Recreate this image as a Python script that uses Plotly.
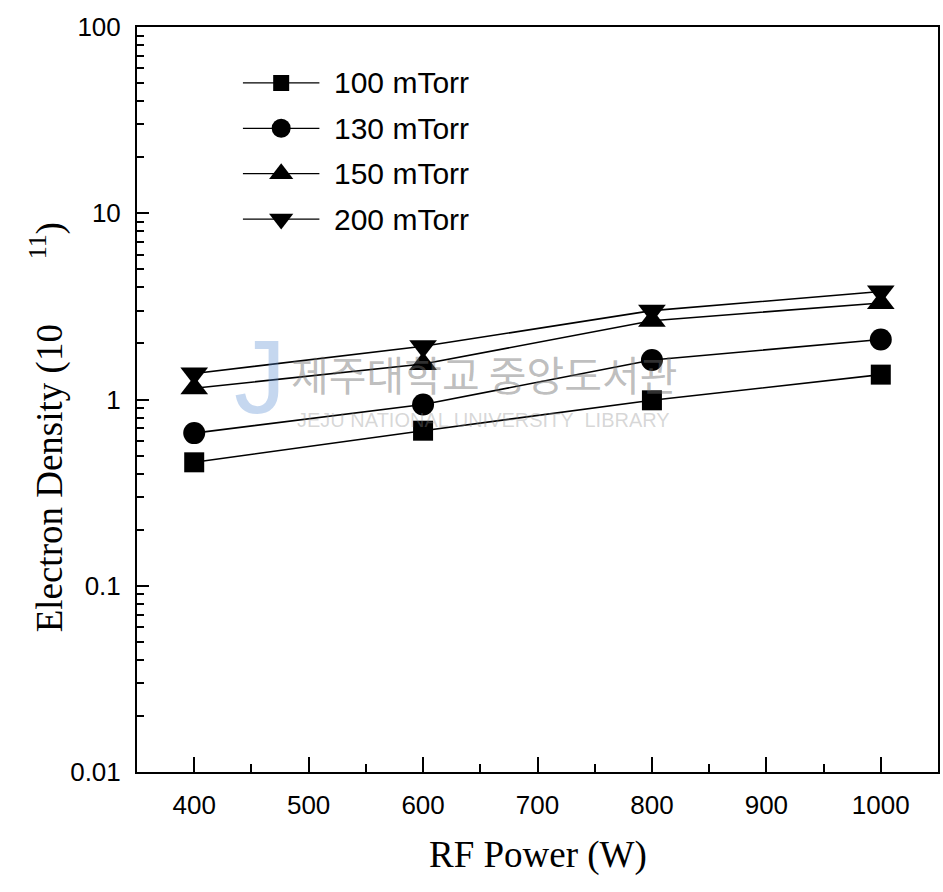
import plotly.graph_objects as go

# ---- data ----
rf_power = [400, 600, 800, 1000]
density_100 = [0.46, 0.68, 0.99, 1.36]
density_130 = [0.66, 0.94, 1.63, 2.10]
density_150 = [1.15, 1.55, 2.65, 3.30]
density_200 = [1.38, 1.93, 3.00, 3.80]

series_names = ["100 mTorr", "130 mTorr", "150 mTorr", "200 mTorr"]
series_values = [density_100, density_130, density_150, density_200]
series_symbols = ["square", "circle", "triangle-up", "triangle-down"]
series_sizes = [20, 22, 24, 24]
legend_sizes = [16, 19, 21, 21]

x_ticks = [400, 500, 600, 700, 800, 900, 1000]
y_ticks = [0.01, 0.1, 1, 10, 100]
y_tick_text = ["0.01", "0.1", "1", "10", "100"]

SANS = "Arial, Liberation Sans, sans-serif"
SERIF = "Times New Roman, Liberation Serif, serif"

fig = go.Figure()

# library watermark (drawn first so it sits behind)
fig.add_annotation(
    x=0.154, xref="paper", y=0.53, yref="paper", text="J", showarrow=False,
    xanchor="center", yanchor="middle",
    font=dict(family=SANS, size=104, color="rgba(90,140,210,0.35)"),
)
fig.add_annotation(
    x=0.433, xref="paper", y=0.535, yref="paper", text="제주대학교 중앙도서관", showarrow=False,
    xanchor="center", yanchor="middle",
    font=dict(family="Noto Sans CJK KR", size=41, color="rgba(110,110,110,0.45)"),
)
fig.add_annotation(
    x=0.433, xref="paper", y=0.472, yref="paper", text="JEJU NATIONAL UNIVERSITY  LIBRARY",
    showarrow=False, xanchor="center", yanchor="middle",
    font=dict(family=SANS, size=20, color="rgba(140,140,140,0.35)"),
)

# data traces
for name, vals, sym, sz in zip(series_names, series_values, series_symbols, series_sizes):
    fig.add_trace(go.Scatter(
        x=rf_power, y=vals, mode="lines+markers", name=name,
        line=dict(color="black", width=1.6),
        marker=dict(symbol=sym, size=sz, color="black"),
        showlegend=False,
    ))

# custom legend drawn on a hidden overlay axis
for i, (name, sym, sz) in enumerate(zip(series_names, series_symbols, legend_sizes)):
    fig.add_trace(go.Scatter(
        x=[0, 1], y=[i, i], mode="lines", xaxis="x2", yaxis="y2",
        line=dict(color="black", width=1.3), showlegend=False, hoverinfo="skip",
    ))
    fig.add_trace(go.Scatter(
        x=[0.5], y=[i], mode="markers", xaxis="x2", yaxis="y2",
        marker=dict(symbol=sym, size=sz, color="black"), showlegend=False, hoverinfo="skip",
    ))
    fig.add_annotation(
        x=0.243, xref="paper", y=i, yref="y2", text=name, showarrow=False,
        xanchor="left", yanchor="middle", font=dict(family=SANS, size=30, color="black"),
    )

minor_y = [k * 10 ** e for e in range(-2, 2) for k in range(2, 10)]

fig.update_layout(
    width=943, height=892,
    margin=dict(l=137, r=3, t=27, b=120),
    paper_bgcolor="white", plot_bgcolor="white",
    xaxis=dict(
        range=[350, 1050], tickvals=x_ticks,
        ticks="inside", ticklen=15, tickwidth=2, tickcolor="black",
        minor=dict(ticks="inside", ticklen=8, tickwidth=2, tickcolor="black", dtick=50),
        showline=True, linewidth=2, linecolor="black", mirror=True,
        showgrid=False, zeroline=False,
        tickfont=dict(family=SANS, size=26, color="black"),
        ticklabelstandoff=9,
    ),
    yaxis=dict(
        type="log", range=[-2, 2], tickvals=y_ticks, ticktext=y_tick_text,
        ticks="inside", ticklen=12, tickwidth=2, tickcolor="black",
        minor=dict(ticks="inside", ticklen=7, tickwidth=2, tickcolor="black", tickvals=minor_y),
        showline=True, linewidth=2, linecolor="black", mirror=True,
        showgrid=False, zeroline=False,
        tickfont=dict(family=SANS, size=26, color="black"),
        ticklabelstandoff=9,
    ),
    xaxis2=dict(domain=[0.132, 0.228], range=[0, 1], visible=False, anchor="y2"),
    yaxis2=dict(domain=[0.7118, 0.9554], range=[3.5, -0.5], visible=False, anchor="x2"),
)

# axis titles
fig.add_annotation(
    x=0.5, xref="paper", y=-0.112, yref="paper", text="RF Power (W)", showarrow=False,
    xanchor="center", yanchor="middle", font=dict(family=SERIF, size=37, color="black"),
)
fig.add_annotation(
    x=-0.112, xref="paper", y=0.463, yref="paper",
    text="Electron Density (10" + "\u00a0" * 7 + "<sup>11</sup>)",
    showarrow=False, textangle=-90, xanchor="center", yanchor="middle",
    font=dict(family=SERIF, size=37, color="black"),
)

fig.write_html("out.html")
